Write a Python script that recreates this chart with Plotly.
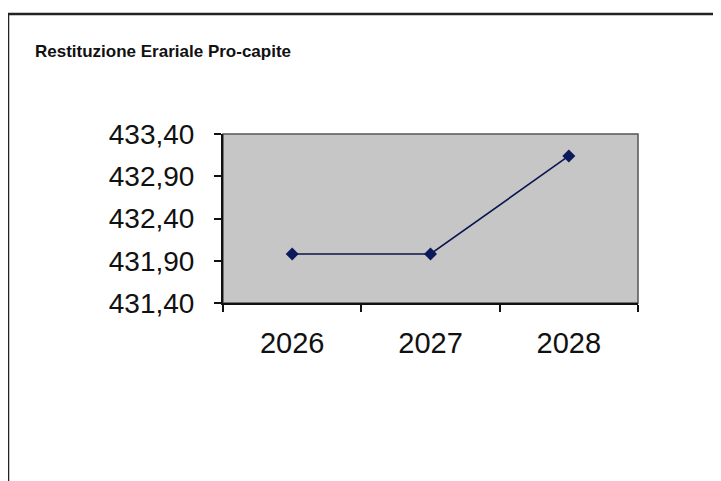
import plotly.graph_objects as go

years = ["2026", "2027", "2028"]
values = [431.98, 431.98, 433.14]
y_ticks = [431.40, 431.90, 432.40, 432.90, 433.40]
title_text = "Restituzione Erariale Pro-capite"

W, H = 721, 481
OFF = 8  # page body margin in the browser
# target screen pixels of the plot area
SL, SR, ST, SB = 223, 638, 134, 303
L = SL - OFF
T = ST - OFF
R = W - (SR - OFF)
B = H - (SB - OFF)
pw = W - L - R
ph = H - T - B

def px_x(x):
    return (x - OFF - L) / pw

def px_y(y):
    return (H - B - (y - OFF)) / ph

fig = go.Figure()
fig.add_trace(go.Scatter(
    x=years, y=values, mode="lines+markers",
    line=dict(color="#0a1450", width=1.6),
    marker=dict(symbol="diamond", size=10, color="#0a1a5a"),
    showlegend=False,
))

fig.update_layout(
    width=W, height=H,
    margin=dict(l=L, r=R, t=T, b=B, pad=0),
    paper_bgcolor="white",
    plot_bgcolor="#c6c6c6",
    separators=",.",
    title=dict(text="<b>" + title_text + "</b>", x=(35 - OFF) / W, xanchor="left",
               xref="container", y=1 - (51 - OFF) / H, yanchor="middle", yref="container",
               font=dict(family="Liberation Sans, Arial", size=17, color="#111111")),
    font=dict(family="Liberation Sans, Arial", color="#111111"),
    xaxis=dict(type="category", range=[-0.5, 2.5], showgrid=False, zeroline=False,
               showline=True, linecolor="#111111", linewidth=2,
               ticks="outside", tickson="boundaries", ticklen=7, tickwidth=1.5,
               tickcolor="#111111", tickfont=dict(size=29), ticklabelstandoff=13),
    yaxis=dict(range=[431.40, 433.40], tickvals=y_ticks, tickformat=".2f",
               showgrid=False, zeroline=False,
               showline=True, linecolor="#111111", linewidth=2,
               ticks="outside", ticklen=7, tickwidth=1.5, tickcolor="#111111",
               tickfont=dict(size=28), ticklabelstandoff=14),
    shapes=[
        dict(type="rect", xref="paper", yref="paper", x0=0, x1=1, y0=0, y1=1,
             line=dict(color="#555555", width=1.5), layer="below"),
        dict(type="line", xref="paper", yref="paper", x0=px_x(8), x1=px_x(740),
             y0=px_y(14), y1=px_y(14), line=dict(color="#222222", width=2.5)),
        dict(type="line", xref="paper", yref="paper", x0=px_x(8), x1=px_x(8),
             y0=px_y(14), y1=px_y(500), line=dict(color="#222222", width=2.5)),
    ],
)

fig.write_html("out.html")
